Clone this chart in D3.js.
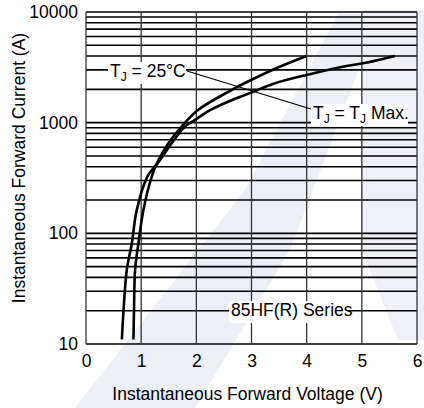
<!DOCTYPE html>
<html>
<head>
<meta charset="utf-8">
<script src="https://cdn.jsdelivr.net/npm/d3@7"></script>
<style>
  body { margin: 0; background: #fff; }
  svg { display: block; font-family: "Liberation Sans", Arial, sans-serif; }
</style>
</head>
<body>
<svg id="chart"></svg>
<script>
// axis values
const voltageTicks = [0, 1, 2, 3, 4, 5, 6];
const currentTicks = [10, 100, 1000, 10000];

// Tj = 25C curve (V, A)
const tj25Voltage = [0.86, 0.87, 0.89, 0.95, 1.04, 1.19, 1.30, 1.49, 1.73, 2.03, 2.62, 3.03, 3.48, 4.0];
const tj25Current = [11, 20, 47, 81, 162, 324, 444, 650, 918, 1300, 1950, 2480, 3150, 4000];

// Tj = Tj max curve (V, A)
const tjMaxVoltage = [0.65, 0.68, 0.74, 0.83, 0.92, 1.11, 1.32, 1.55, 1.79, 1.97, 2.25, 2.67, 3.03, 3.4, 4.0, 4.72, 5.1, 5.6];
const tjMaxCurrent = [11, 20, 47, 81, 162, 324, 444, 650, 918, 1055, 1300, 1620, 1900, 2250, 2700, 3250, 3500, 4000];

const width = 424, height = 408;
const margin = { top: 12, right: 7, bottom: 64, left: 86 };
const plotW = width - margin.left - margin.right;
const plotH = height - margin.top - margin.bottom;
const fontSize = "17.5px";

const svg = d3.select("#chart").attr("width", width).attr("height", height);

// faint watermark in the background
const bg = svg.append("g");
bg.append("path")
  .attr("d", "M75,408 L195,408 L290,250 L380,14 L338,14 L245,190 Z")
  .attr("fill", "#eceff5");
bg.append("path")
  .attr("d", "M362,10 L424,10 L424,340 L398,340 L362,250 Z")
  .attr("fill", "#eef0f6");

const x = d3.scaleLinear().domain([0, 6]).range([0, plotW]);
const y = d3.scaleLog().domain([10, 10000]).range([plotH, 0]);

const g = svg.append("g").attr("transform", `translate(${margin.left},${margin.top})`);

// horizontal grid (every minor decade step)
g.selectAll("line.hgrid")
  .data(y.ticks())
  .enter()
  .append("line")
  .attr("class", "hgrid")
  .attr("x1", 0)
  .attr("x2", plotW)
  .attr("y1", d => y(d))
  .attr("y2", d => y(d))
  .attr("stroke", "#000")
  .attr("stroke-width", 1.6);

// vertical grid
g.selectAll("line.vgrid")
  .data(voltageTicks)
  .enter()
  .append("line")
  .attr("class", "vgrid")
  .attr("x1", d => x(d))
  .attr("x2", d => x(d))
  .attr("y1", 0)
  .attr("y2", plotH)
  .attr("stroke", "#333")
  .attr("stroke-width", 1.3);

// axes (labels only)
const xAxis = g.append("g")
  .attr("transform", `translate(0,${plotH})`)
  .call(d3.axisBottom(x).tickValues(voltageTicks).tickSize(0).tickPadding(11).tickFormat(d3.format("d")));
const yAxis = g.append("g")
  .call(d3.axisLeft(y).tickValues(currentTicks).tickSize(0).tickPadding(8).tickFormat(d3.format("d")));
[xAxis, yAxis].forEach(a => {
  a.select(".domain").remove();
  a.selectAll("text")
    .style("font-family", "Liberation Sans, Arial, sans-serif")
    .style("font-size", fontSize)
    .attr("fill", "#000");
});

// curves
const line = d3.line()
  .x(d => x(d[0]))
  .y(d => y(d[1]))
  .curve(d3.curveCatmullRom.alpha(0.5));

const tj25 = tj25Voltage.map((v, i) => [v, tj25Current[i]]);
const tjMax = tjMaxVoltage.map((v, i) => [v, tjMaxCurrent[i]]);

[tj25, tjMax].forEach(pts => {
  g.append("path")
    .attr("d", line(pts))
    .attr("fill", "none")
    .attr("stroke", "#000")
    .attr("stroke-width", 2.6);
});

// leader line between the two curve labels
g.append("line")
  .attr("x1", 187 - margin.left).attr("y1", 71 - margin.top)
  .attr("x2", 311 - margin.left).attr("y2", 109 - margin.top)
  .attr("stroke", "#000")
  .attr("stroke-width", 1.2);

function label(px, py, w, parts) {
  g.append("rect")
    .attr("x", px - 2).attr("y", py - 15)
    .attr("width", w).attr("height", 22)
    .attr("fill", "#fff");
  const t = g.append("text")
    .attr("x", px).attr("y", py)
    .style("font-size", fontSize)
    .attr("fill", "#000");
  parts.forEach(p => {
    const s = t.append("tspan").text(p.t);
    if (p.sub) s.attr("dy", 4).style("font-size", "12px");
    if (p.up) s.attr("dy", -4);
  });
}

label(110 - margin.left, 77 - margin.top, 78, [
  { t: "T" }, { t: "J", sub: true }, { t: " = 25°C", up: true }
]);
label(313 - margin.left, 119 - margin.top, 97, [
  { t: "T" }, { t: "J", sub: true }, { t: " = T", up: true }, { t: "J", sub: true }, { t: " Max.", up: true }
]);
label(231 - margin.left, 316 - margin.top, 119, [{ t: "85HF(R) Series" }]);

// axis titles
svg.append("text")
  .attr("x", margin.left + plotW / 2 - 4)
  .attr("y", 400)
  .attr("text-anchor", "middle")
  .style("font-size", fontSize)
  .text("Instantaneous Forward Voltage (V)");

svg.append("text")
  .attr("transform", "translate(25,168) rotate(-90)")
  .attr("text-anchor", "middle")
  .style("font-size", fontSize)
  .text("Instantaneous Forward Current (A)");
</script>
</body>
</html>
